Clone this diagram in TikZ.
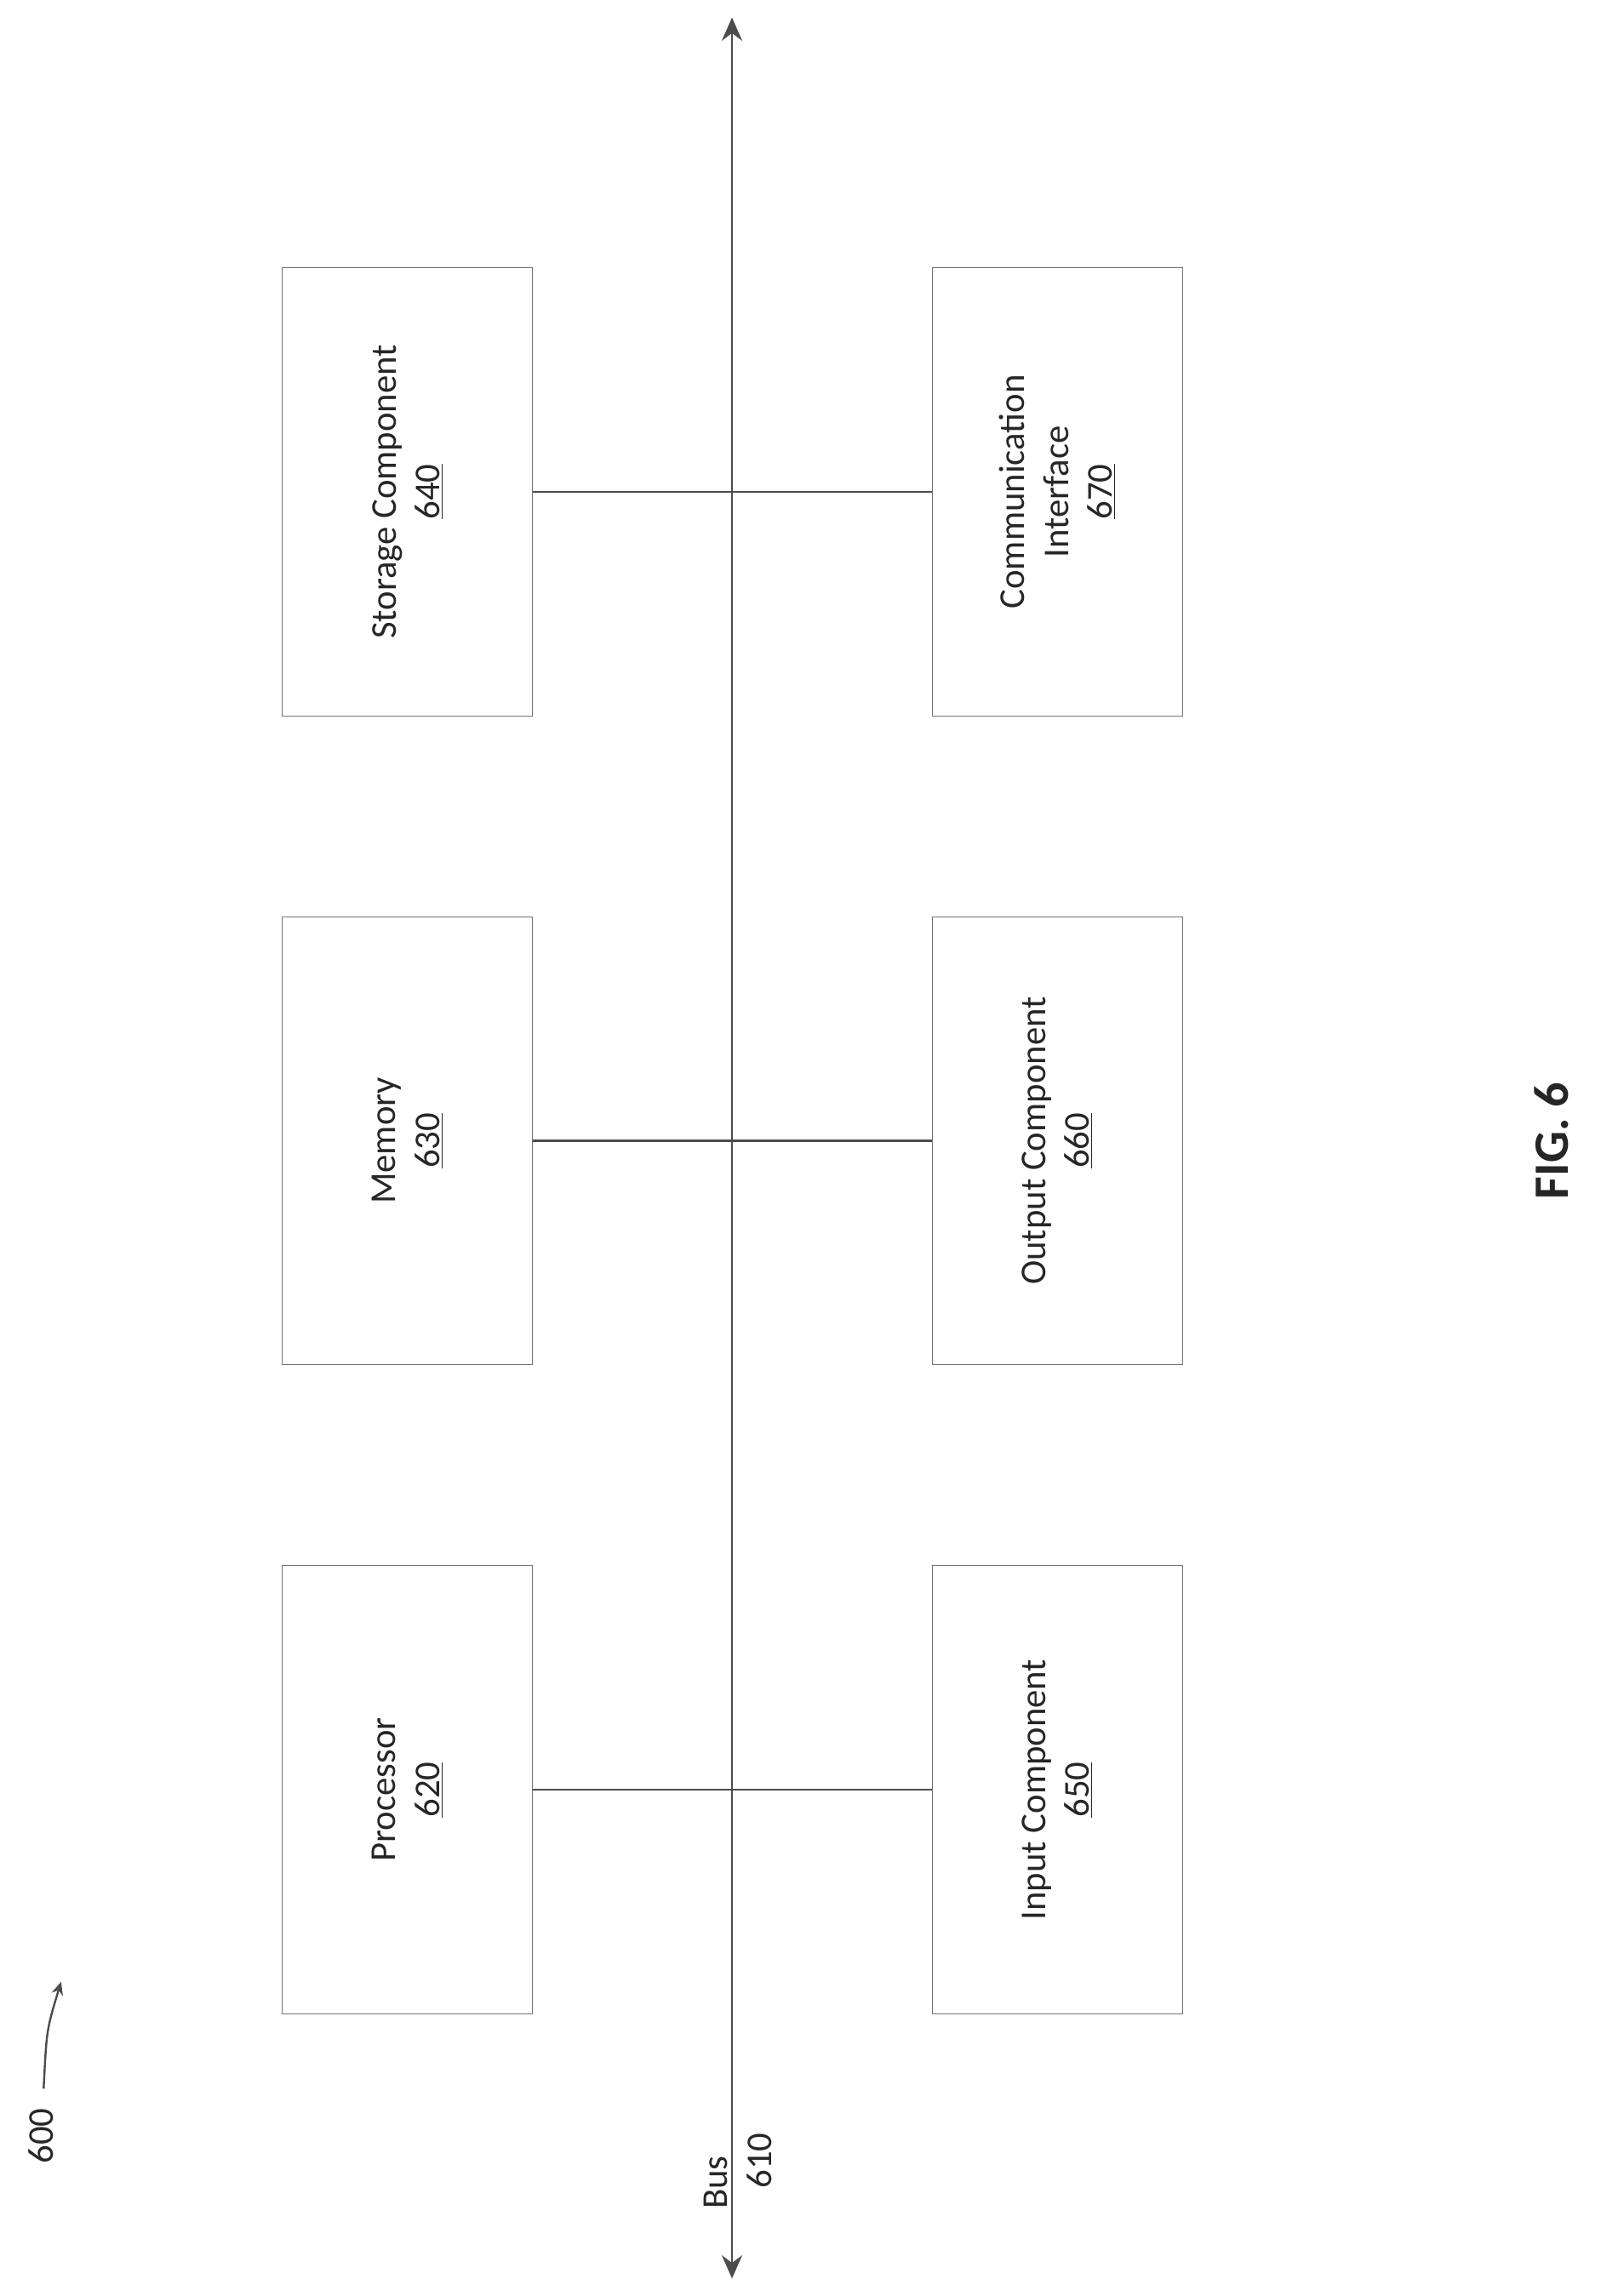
\documentclass[tikz,border=0pt]{standalone}
\usepackage{fontspec}
\setmainfont{Carlito}
\usetikzlibrary{arrows.meta}
\begin{document}
\begin{tikzpicture}[x=1pt,y=-1pt,
  box/.style={draw=black!55,line width=0.6pt,minimum width=172pt,minimum height=308pt,inner sep=0pt},
  lbl/.style={rotate=90,align=center,font=\fontsize{25}{30}\selectfont,text=black!85},
  conn/.style={draw=black!70,line width=1.6pt}]
\useasboundingbox (0,0) rectangle (1100,1578);
\node[box] (b640) at (280,338) {};
\node[box] (b630) at (280,784) {};
\node[box] (b620) at (280,1230) {};
\node[box] (b670) at (726.5,338) {};
\node[box] (b660) at (726.5,784) {};
\node[box] (b650) at (726.5,1230) {};
\node[lbl] at (b640) {Storage Component\\\underline{640}};
\node[lbl] at (b630) {Memory\\\underline{630}};
\node[lbl] at (b620) {Processor\\\underline{620}};
\node[lbl] at (b670) {Communication\\Interface\\\underline{670}};
\node[lbl] at (b660) {Output Component\\\underline{660}};
\node[lbl] at (b650) {Input Component\\\underline{650}};
\coordinate (bt) at (503,12);
\coordinate (bb) at (503,1566);
\draw[conn,{Stealth[length=16pt,width=14pt]}-{Stealth[length=16pt,width=14pt]}] (bb) -- (bt);
\draw[conn] (b640.east) -- (b670.west);
\draw[conn] (b630.east) -- (b660.west);
\draw[conn] (b620.east) -- (b650.west);
\node[lbl,anchor=center] (bus) at (507,1500) {Bus\\\hspace*{1.2em}610};
\node[lbl] (n600) at (28,1468) {600};
\coordinate (a600) at (42,1362);
\draw[black!70,line width=1.4pt,-{Stealth[length=9pt,width=8pt]}] (n600.east) ++(2,-10) .. controls (32,1395) .. (a600);
\node[rotate=90,font=\bfseries\fontsize{34}{40}\selectfont,text=black!85] (fig) at (1066,784) {FIG. 6};
\end{tikzpicture}
\end{document}
